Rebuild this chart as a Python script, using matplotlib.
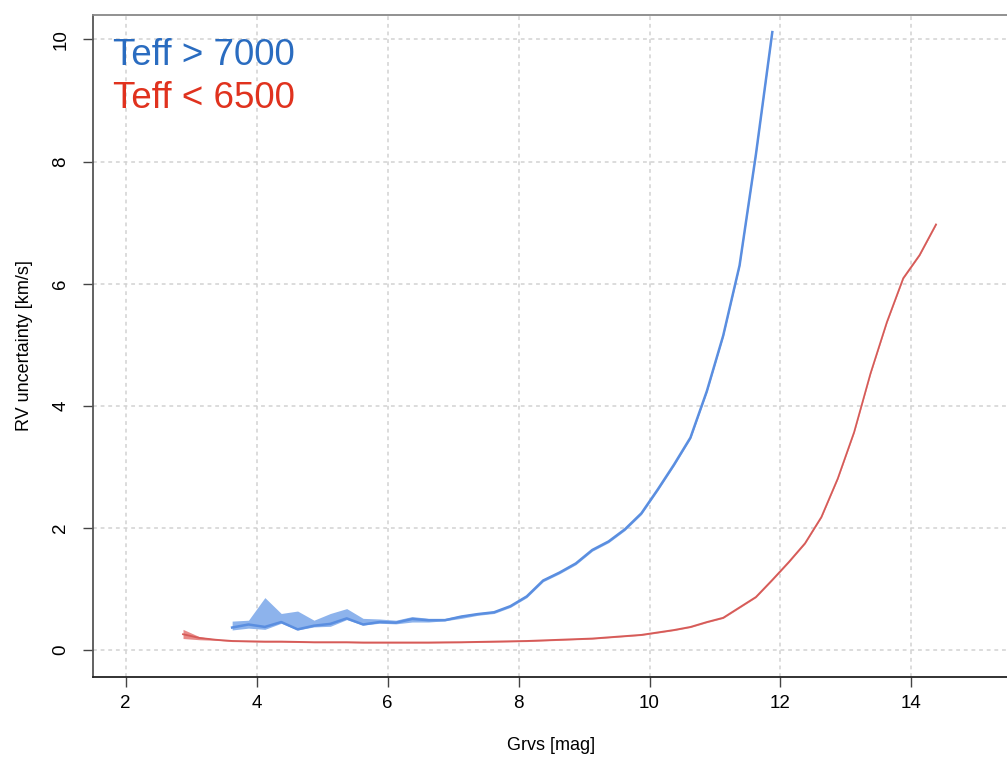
import matplotlib.pyplot as plt

plt.rcParams['font.family'] = ['Liberation Sans', 'DejaVu Sans']

# hot stars (Teff > 7000)
hot_g = [3.625, 3.875, 4.125, 4.375, 4.625, 4.875, 5.125, 5.375, 5.625, 5.875,
         6.125, 6.375, 6.625, 6.875, 7.125, 7.375, 7.625, 7.875, 8.125, 8.375,
         8.625, 8.875, 9.125, 9.375, 9.625, 9.875, 10.125, 10.375, 10.625, 10.875,
         11.125, 11.375, 11.625, 11.875]
hot_mid = [0.37, 0.42, 0.38, 0.46, 0.34, 0.40, 0.43, 0.52, 0.42, 0.46,
           0.45, 0.51, 0.49, 0.49, 0.55, 0.59, 0.62, 0.72, 0.88, 1.14,
           1.27, 1.42, 1.64, 1.78, 1.98, 2.24, 2.63, 3.04, 3.48, 4.24,
           5.15, 6.30, 8.12, 10.12]
hot_hi = [0.475, 0.49, 0.86, 0.60, 0.64, 0.49, 0.60, 0.68, 0.52, 0.51,
          0.49, 0.55, 0.52, 0.52, 0.57, 0.61, 0.64, 0.74, 0.90, 1.16,
          1.29, 1.44, 1.66, 1.80, 2.00, 2.26, 2.65, 3.06, 3.50, 4.26,
          5.17, 6.32, 8.14, 10.14]
hot_lo = [0.33, 0.36, 0.34, 0.44, 0.33, 0.38, 0.39, 0.50, 0.41, 0.44,
          0.43, 0.46, 0.46, 0.48, 0.52, 0.57, 0.60, 0.70, 0.86, 1.12,
          1.25, 1.40, 1.62, 1.76, 1.96, 2.22, 2.61, 3.02, 3.46, 4.22,
          5.13, 6.28, 8.10, 10.10]

# cool stars (Teff < 6500)
cool_g = [2.875, 3.125, 3.375, 3.625, 3.875, 4.125, 4.375, 4.625, 4.875, 5.125,
          5.375, 5.625, 5.875, 6.125, 6.375, 6.625, 6.875, 7.125, 7.375, 7.625,
          7.875, 8.125, 8.375, 8.625, 8.875, 9.125, 9.375, 9.625, 9.875, 10.125,
          10.375, 10.625, 10.875, 11.125, 11.375, 11.625, 11.875, 12.125, 12.375, 12.625,
          12.875, 13.125, 13.375, 13.625, 13.875, 14.125, 14.375]
cool_mid = [0.26, 0.20, 0.17, 0.15, 0.145, 0.14, 0.14, 0.135, 0.13, 0.13,
            0.13, 0.125, 0.125, 0.125, 0.125, 0.125, 0.128, 0.13, 0.135, 0.14,
            0.145, 0.15, 0.16, 0.17, 0.18, 0.19, 0.21, 0.23, 0.25, 0.29,
            0.33, 0.38, 0.46, 0.53, 0.70, 0.87, 1.15, 1.44, 1.75, 2.18,
            2.81, 3.57, 4.53, 5.37, 6.09, 6.47, 6.97]
cool_hi = [0.34, 0.22, 0.18, 0.16, 0.155, 0.15, 0.15, 0.145, 0.14, 0.14,
           0.14, 0.135, 0.135, 0.135, 0.135, 0.135, 0.138, 0.14, 0.145, 0.15,
           0.155, 0.16, 0.17, 0.18, 0.19, 0.20, 0.22, 0.24, 0.26, 0.30,
           0.34, 0.39, 0.47, 0.54, 0.71, 0.88, 1.16, 1.45, 1.76, 2.19,
           2.82, 3.58, 4.54, 5.38, 6.10, 6.48, 6.98]
cool_lo = [0.19, 0.17, 0.16, 0.14, 0.135, 0.13, 0.13, 0.125, 0.12, 0.12,
           0.12, 0.115, 0.115, 0.115, 0.115, 0.115, 0.118, 0.12, 0.125, 0.13,
           0.135, 0.14, 0.15, 0.16, 0.17, 0.18, 0.20, 0.22, 0.24, 0.28,
           0.32, 0.37, 0.45, 0.52, 0.69, 0.86, 1.14, 1.43, 1.74, 2.17,
           2.80, 3.56, 4.52, 5.36, 6.08, 6.46, 6.96]

x_ticks = [2, 4, 6, 8, 10, 12, 14]
y_ticks = [0, 2, 4, 6, 8, 10]

fig = plt.figure(figsize=(10.07, 7.65), dpi=100)
ax = fig.add_axes([93 / 1007, 88 / 765, 916 / 1007, 662 / 765])

ax.set_xlim(1.50, 15.49)
ax.set_ylim(-0.44, 10.40)
ax.set_xticks(x_ticks)
ax.set_yticks(y_ticks)
ax.grid(True, color='#d2d2d2', linestyle=(0, (2.5, 2.5)), linewidth=1.1)
ax.set_axisbelow(True)

ax.fill_between(hot_g, hot_lo, hot_hi, color='#8db3ec', lw=0)
ax.plot(hot_g, hot_mid, color='#5a8ee0', lw=1.8)
ax.fill_between(cool_g, cool_lo, cool_hi, color='#e88a88', lw=0)
ax.plot(cool_g, cool_mid, color='#d65b58', lw=1.3)

ax.text(0.022, 0.9245, 'Teff > 7000', transform=ax.transAxes, color='#2a6cc0',
        fontsize=26.5, va='baseline')
ax.text(0.022, 0.8595, 'Teff < 6500', transform=ax.transAxes, color='#e0321e',
        fontsize=26.5, va='baseline')

ax.tick_params(axis='both', direction='out', length=7, width=1, color='#444444',
               labelsize=13.5)
ax.tick_params(axis='x', pad=6)
ax.tick_params(axis='y', pad=10)
for lab in ax.get_yticklabels():
    lab.set_rotation(90)
    lab.set_va('center')

ax.spines['top'].set_color('#888888')
ax.spines['left'].set_color('#555555')
ax.spines['bottom'].set_color('#222222')
ax.spines['right'].set_color('#888888')
for s in ax.spines.values():
    s.set_linewidth(1.3)

ax.set_xlabel('Grvs [mag]', fontsize=13, labelpad=18)
ax.set_ylabel('RV uncertainty [km/s]', fontsize=13, labelpad=14)

fig.savefig('out.png', dpi=100)
